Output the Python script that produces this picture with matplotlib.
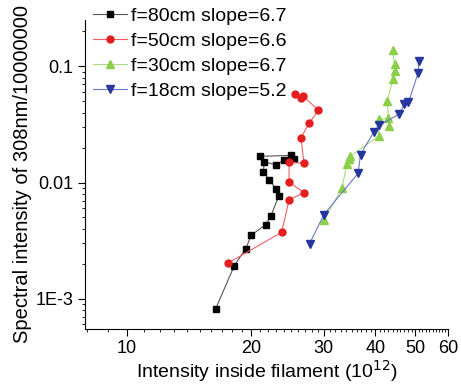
import matplotlib
matplotlib.use("Agg")
import matplotlib.pyplot as plt
from matplotlib.ticker import FixedLocator, FixedFormatter, LogLocator, NullFormatter

plt.rcParams['font.family'] = ['Liberation Sans', 'DejaVu Sans']

# f=80cm
x80 = [16.4, 18.2, 19.4, 20.0, 21.7, 22.3, 23.3, 22.9, 22.1, 21.4, 21.5, 22.9, 24.0, 25.4, 24.9, 21.0]
y80 = [0.00082, 0.00193, 0.0027, 0.00352, 0.00435, 0.00512, 0.00762, 0.00888, 0.0106, 0.0123,
       0.0151, 0.0142, 0.0156, 0.0158, 0.0171, 0.0168]
# f=50cm
x50 = [17.6, 23.7, 24.7, 26.85, 24.7, 24.7, 26.85, 26.4, 27.6, 29.1, 26.7, 26.4, 25.5]
y50 = [0.00203, 0.00373, 0.00713, 0.00815, 0.0101, 0.0150, 0.0146, 0.0243, 0.0323, 0.0418,
       0.0555, 0.0537, 0.0574]
# f=30cm
x30 = [30.0, 33.2, 34.1, 34.5, 34.8, 40.7, 40.7, 42.9, 43.2, 42.7, 44.1, 44.5, 44.5, 44.0]
y30 = [0.00473, 0.0090, 0.0145, 0.0160, 0.0169, 0.0251, 0.0349, 0.0356, 0.0305, 0.0502,
       0.0773, 0.0911, 0.104, 0.138]
# f=18cm
x18 = [27.7, 30.0, 36.3, 36.8, 39.6, 40.7, 45.6, 47.0, 48.1, 50.8, 51.0]
y18 = [0.00298, 0.0053, 0.0120, 0.0174, 0.0271, 0.0310, 0.0385, 0.047, 0.0492, 0.0883, 0.111]

labels = ['f=80cm slope=6.7', 'f=50cm slope=6.6', 'f=30cm slope=6.7', 'f=18cm slope=5.2']

fig = plt.figure(figsize=(4.61, 3.86), dpi=100)
ax = fig.add_axes([0.184, 0.148, 0.788, 0.80])

ax.plot(x80, y80, color='#555555', lw=0.8, marker='s', ms=4.5, mfc='black', mec='black', label=labels[0])
ax.plot(x50, y50, color='#f06060', lw=0.8, marker='o', ms=5, mfc='#e41e1e', mec='#e41e1e', label=labels[1])
ax.plot(x30, y30, color='#a8dc80', lw=0.8, marker='^', ms=6, mfc='#8ccf4a', mec='#8ccf4a', label=labels[2])
ax.plot(x18, y18, color='#6a78c8', lw=0.8, marker='v', ms=6, mfc='#26369e', mec='#26369e', label=labels[3])

ax.set_xscale('log')
ax.set_yscale('log')
ax.set_xlim(7.9, 60)
ax.set_ylim(5.5e-4, 0.25)

xmaj = [10, 20, 30, 40, 50, 60]
ax.xaxis.set_major_locator(FixedLocator(xmaj))
ax.xaxis.set_major_formatter(FixedFormatter([str(v) for v in xmaj]))
ax.xaxis.set_minor_locator(FixedLocator([v for v in range(8, 61) if v not in xmaj]))
ax.xaxis.set_minor_formatter(NullFormatter())

ymaj = [0.001, 0.01, 0.1]
ax.yaxis.set_major_locator(FixedLocator(ymaj))
ax.yaxis.set_major_formatter(FixedFormatter(['1E-3', '0.01', '0.1']))
ax.yaxis.set_minor_locator(LogLocator(base=10, subs=range(2, 10)))
ax.yaxis.set_minor_formatter(NullFormatter())

ax.spines['top'].set_visible(False)
ax.spines['right'].set_visible(False)
ax.tick_params(which='major', direction='out', length=5, labelsize=13, pad=3)
ax.tick_params(which='minor', direction='out', length=2.5)

ax.set_xlabel('Intensity inside filament (10$^{12}$)', fontsize=14, labelpad=1)
ax.set_ylabel('Spectral intensity of 308nm/10000000', fontsize=14.5, labelpad=3)

ax.legend(loc='upper left', bbox_to_anchor=(-0.01, 1.08), frameon=False, fontsize=14,
          handlelength=1.75, handletextpad=0.2, labelspacing=0.38, borderaxespad=0.2)

fig.savefig('out.png', dpi=100)
